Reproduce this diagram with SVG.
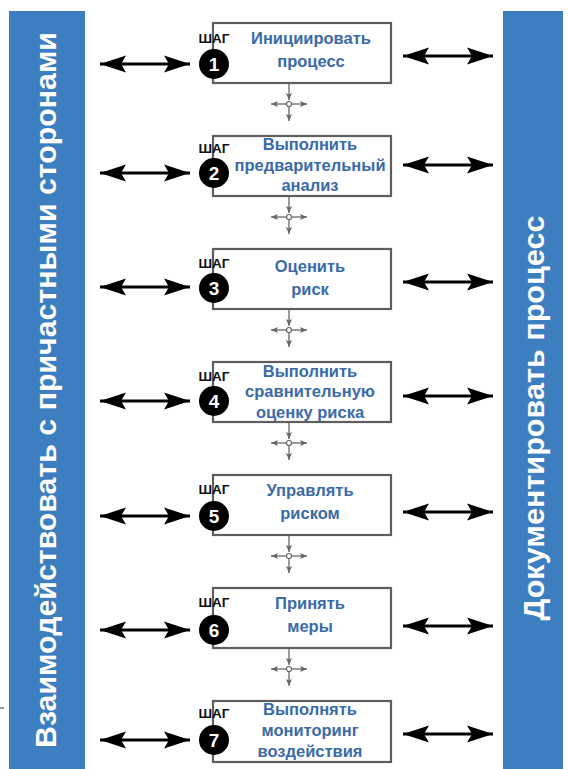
<svg xmlns="http://www.w3.org/2000/svg" width="568" height="769" viewBox="0 0 568 769">
<defs>
<style>
.bar{fill:#3d7ec0}
.bartxt{font-family:"Liberation Sans",Arial,sans-serif;font-weight:bold;font-size:30px;fill:#ffffff}
.box{fill:#ffffff;stroke:#5e5e5e;stroke-width:2.2}
.step{font-family:"Liberation Sans",Arial,sans-serif;font-weight:bold;font-size:13.5px;fill:#111}
.num{font-family:"Liberation Sans",Arial,sans-serif;font-weight:bold;font-size:19px;fill:#ffffff}
.lbl{font-family:"Liberation Sans",Arial,sans-serif;font-weight:bold;font-size:16.5px;fill:#3a6aa8;text-anchor:middle}
.big{fill:none;stroke:#000;stroke-width:2.8;marker-start:url(#ah);marker-end:url(#ah)}
.sm{fill:none;stroke:#666;stroke-width:1.3;marker-end:url(#sa)}
</style>
<marker id="ah" markerUnits="userSpaceOnUse" markerWidth="30" markerHeight="22" viewBox="-27 -11 30 22" refX="0" refY="0" orient="auto-start-reverse">
<path d="M0,0 L-26,-8.5 L-21,0 L-26,8.5 Z" fill="#000"/>
</marker>
<marker id="sa" markerUnits="userSpaceOnUse" markerWidth="10" markerHeight="10" viewBox="-8 -5 10 10" refX="0" refY="0" orient="auto">
<path d="M0,0 L-7,-3 L-5.5,0 L-7,3 Z" fill="#666"/>
</marker>
</defs>

<g id="left-bar">
<rect class="bar" x="9" y="11" width="76" height="758"/>
<text class="bartxt" transform="translate(56,390) rotate(-90)" text-anchor="middle" textLength="716" lengthAdjust="spacingAndGlyphs">Взаимодействовать с причастными сторонами</text>
</g>
<g id="right-bar">
<rect class="bar" x="503" y="11" width="60" height="758"/>
<text class="bartxt" transform="translate(544,418) rotate(-90)" text-anchor="middle" textLength="405" lengthAdjust="spacingAndGlyphs">Документировать процесс</text>
</g>
<line x1="0" y1="708" x2="4" y2="708" stroke="#333" stroke-width="1"/>

<g id="connectors">
<path class="big" d="M100,64 H190"/><path class="big" d="M403,56 H493"/>
<path class="big" d="M100,173 H190"/><path class="big" d="M403,165 H493"/>
<path class="big" d="M100,287 H190"/><path class="big" d="M403,282 H493"/>
<path class="big" d="M100,401 H190"/><path class="big" d="M403,396 H493"/>
<path class="big" d="M100,516 H190"/><path class="big" d="M403,512 H493"/>
<path class="big" d="M100,630 H190"/><path class="big" d="M403,626 H493"/>
<path class="big" d="M100,740 H190"/><path class="big" d="M403,734 H493"/>

<g id="x1"><path class="sm" d="M289,83 V100"/><path class="sm" d="M286.5,104 H271"/><path class="sm" d="M291.5,104 H307"/><path class="sm" d="M289,106.5 V121"/><circle cx="289" cy="104" r="2.5" fill="#fff" stroke="#666" stroke-width="1.2"/></g>
<g id="x2"><path class="sm" d="M289,196 V213"/><path class="sm" d="M286.5,217 H271"/><path class="sm" d="M291.5,217 H307"/><path class="sm" d="M289,219.5 V234"/><circle cx="289" cy="217" r="2.5" fill="#fff" stroke="#666" stroke-width="1.2"/></g>
<g id="x3"><path class="sm" d="M289,309 V326"/><path class="sm" d="M286.5,330 H271"/><path class="sm" d="M291.5,330 H307"/><path class="sm" d="M289,332.5 V347"/><circle cx="289" cy="330" r="2.5" fill="#fff" stroke="#666" stroke-width="1.2"/></g>
<g id="x4"><path class="sm" d="M289,422 V439"/><path class="sm" d="M286.5,443 H271"/><path class="sm" d="M291.5,443 H307"/><path class="sm" d="M289,445.5 V460"/><circle cx="289" cy="443" r="2.5" fill="#fff" stroke="#666" stroke-width="1.2"/></g>
<g id="x5"><path class="sm" d="M289,535 V552"/><path class="sm" d="M286.5,556 H271"/><path class="sm" d="M291.5,556 H307"/><path class="sm" d="M289,558.5 V573"/><circle cx="289" cy="556" r="2.5" fill="#fff" stroke="#666" stroke-width="1.2"/></g>
<g id="x6"><path class="sm" d="M289,648 V665"/><path class="sm" d="M286.5,669 H271"/><path class="sm" d="M291.5,669 H307"/><path class="sm" d="M289,671.5 V686"/><circle cx="289" cy="669" r="2.5" fill="#fff" stroke="#666" stroke-width="1.2"/></g>
</g>

<g id="step1">
<rect class="box" x="213" y="23" width="178" height="60"/>
<text class="step" x="214" y="43" text-anchor="middle">ШАГ</text>
<circle cx="214" cy="64" r="15" fill="#000"/>
<text class="num" x="214" y="71" text-anchor="middle">1</text>
<text class="lbl" x="311" y="44">Инициировать</text>
<text class="lbl" x="311" y="67">процесс</text>
</g>
<g id="step2">
<rect class="box" x="213" y="136" width="178" height="60"/>
<text class="step" x="214" y="153" text-anchor="middle">ШАГ</text>
<circle cx="214" cy="173" r="15" fill="#000"/>
<text class="num" x="214" y="180" text-anchor="middle">2</text>
<text class="lbl" x="310" y="150">Выполнить</text>
<text class="lbl" x="310" y="171">предварительный</text>
<text class="lbl" x="310" y="191">анализ</text>
</g>
<g id="step3">
<rect class="box" x="213" y="249" width="178" height="60"/>
<text class="step" x="214" y="268" text-anchor="middle">ШАГ</text>
<circle cx="214" cy="288" r="15" fill="#000"/>
<text class="num" x="214" y="295" text-anchor="middle">3</text>
<text class="lbl" x="310" y="272">Оценить</text>
<text class="lbl" x="310" y="295">риск</text>
</g>
<g id="step4">
<rect class="box" x="213" y="362" width="178" height="60"/>
<text class="step" x="214" y="381" text-anchor="middle">ШАГ</text>
<circle cx="214" cy="401" r="15" fill="#000"/>
<text class="num" x="214" y="408" text-anchor="middle">4</text>
<text class="lbl" x="310" y="377">Выполнить</text>
<text class="lbl" x="310" y="397">сравнительную</text>
<text class="lbl" x="310" y="418">оценку риска</text>
</g>
<g id="step5">
<rect class="box" x="213" y="475" width="178" height="60"/>
<text class="step" x="214" y="494" text-anchor="middle">ШАГ</text>
<circle cx="214" cy="516" r="15" fill="#000"/>
<text class="num" x="214" y="523" text-anchor="middle">5</text>
<text class="lbl" x="310" y="496">Управлять</text>
<text class="lbl" x="310" y="519">риском</text>
</g>
<g id="step6">
<rect class="box" x="213" y="588" width="178" height="60"/>
<text class="step" x="214" y="607" text-anchor="middle">ШАГ</text>
<circle cx="214" cy="630" r="15" fill="#000"/>
<text class="num" x="214" y="637" text-anchor="middle">6</text>
<text class="lbl" x="310" y="609">Принять</text>
<text class="lbl" x="310" y="632">меры</text>
</g>
<g id="step7">
<rect class="box" x="213" y="701" width="178" height="61"/>
<text class="step" x="214" y="718" text-anchor="middle">ШАГ</text>
<circle cx="214" cy="740" r="15" fill="#000"/>
<text class="num" x="214" y="747" text-anchor="middle">7</text>
<text class="lbl" x="310" y="715">Выполнять</text>
<text class="lbl" x="310" y="736">мониторинг</text>
<text class="lbl" x="310" y="757">воздействия</text>
</g>
</svg>
